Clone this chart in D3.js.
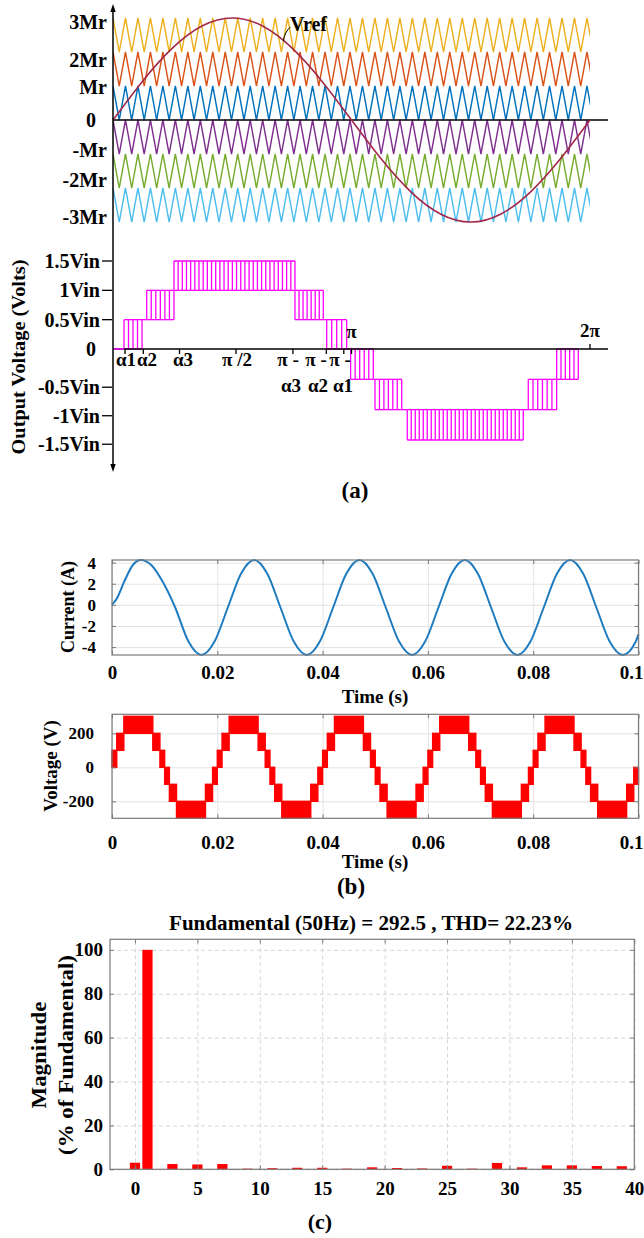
<!DOCTYPE html>
<html>
<head>
<meta charset="utf-8">
<script src="https://cdn.jsdelivr.net/npm/d3@7"></script>
<style>
body { margin: 0; background: #fff; }
svg text { font-family: "Liberation Serif", "Times New Roman", serif; font-weight: bold; fill: #000; }
</style>
</head>
<body>
<svg id="fig" width="644" height="1238"></svg>
<script>
// ---------------- data ----------------
// (a) carriers, lower edge of each band (Mr units)
const carrierLow = [2, 1, 0, -1, -2, -3];
const carrierColor = ["#EDB120", "#D95319", "#0072BD", "#7E2F8E", "#77AC30", "#4DBEEE"];
const carrierPeriod = 0.1643; // rad
// reference, read every pi/8
const vrefVal = [0, 1.15, 2.12, 2.77, 3, 2.77, 2.12, 1.15, 0, -1.15, -2.12, -2.77, -3, -2.77, -2.12, -1.15, 0];
const topTickPos = [2.88, 1.76, 0.97, 0, -0.88, -1.76, -2.85];
const topTickText = ["3Mr", "2Mr", "Mr", "0", "-Mr", "-2Mr", "-3Mr"];

// (a) output voltage: switching regions (rad) and levels (Vin)
const pwmStart = [0.145, 0.444, 0.803, 2.397, 2.815, 3.130, 3.451, 3.876, 5.470, 5.844];
const pwmEnd   = [0.382, 0.803, 2.397, 2.770, 3.078, 3.429, 3.803, 5.404, 5.844, 6.129];
const pwmLow   = [0, 0.5, 1, 0.5, 0, 0, -0.5, -1, -0.5, 0];
const pwmHigh  = [0.5, 1, 1.5, 1, 0.5, -0.5, -1, -1.5, -1, -0.5];
const pwmEdges = [5, 7, 30, 8, 5, 6, 7, 30, 7, 6];
const outTickPos = [1.5, 1, 0.5, 0, -0.63, -1.1, -1.57];
const outTickText = ["1.5Vin", "1Vin", "0.5Vin", "0", "-0.5Vin", "-1Vin", "-1.5Vin"];
const angTickPos = [0.158, 0.399, 0.876, 1.62, 2.37, 2.81, 3.04, Math.PI];
const angLabText = ["α1", "α2", "α3", "π /2"];
const angLabPos = [0.171, 0.448, 0.922, 1.633];
const angLab2Text = ["π -", "π -", "π -"];
const angLab2Pos = [2.305, 2.674, 2.99];
const angLab3Text = ["α3", "α2", "α1"];
const angLab3Pos = [2.345, 2.70, 3.03];

// (b) load current
const curT = [0, 0.0008, 0.0025, 0.004, 0.0055, 0.0075, 0.0095, 0.012, 0.0145, 0.017, 0.0195,
  0.022, 0.0245, 0.027, 0.0295, 0.032, 0.0345, 0.037, 0.0395, 0.042, 0.0445, 0.047, 0.0495,
  0.052, 0.0545, 0.057, 0.0595, 0.062, 0.0645, 0.067, 0.0695, 0.072, 0.0745, 0.077, 0.0795,
  0.082, 0.0845, 0.087, 0.0895, 0.092, 0.0945, 0.097, 0.0995, 0.1];
const curA = [0, 0.5, 2.4, 3.8, 4.25, 3.75, 2.3, -0.25, -3.45, -4.75, -3.45,
  -0.25, 2.95, 4.25, 2.95, -0.25, -3.45, -4.75, -3.45, -0.25, 2.95, 4.25, 2.95,
  -0.25, -3.45, -4.75, -3.45, -0.25, 2.95, 4.25, 2.95, -0.25, -3.45, -4.75, -3.45,
  -0.25, 2.95, 4.25, 2.95, -0.25, -3.45, -4.75, -3.45, -2.8];
const curTicksY = [-4, -2, 0, 2, 4];
const timeTicks = [0, 0.02, 0.04, 0.06, 0.08, 0.1];

// (b) output voltage, one half cycle (s) and the level band switched in it
const vLevels = [0, 100, 200, 300];
const halfBandStart = [0, 0.0009, 0.00225, 0.00775, 0.0091];
const halfBandEnd   = [0.0009, 0.00225, 0.00775, 0.0091, 0.01];
const halfBandIdx   = [0, 1, 2, 1, 0];
const halfCycles = 10;
const voltTicksY = [-200, 0, 200];

// (c) harmonic spectrum (% of fundamental)
const harmOrder = d3.range(0, 40);
const harmMag = [3.0, 100, 0.15, 2.4, 0.15, 2.2, 0.15, 2.4, 0.15, 0.3,
  0.15, 0.5, 0.15, 0.7, 0.15, 0.7, 0.15, 0.3, 0.15, 0.9,
  0.15, 0.6, 0.15, 0.4, 0.15, 1.6, 0.15, 0.3, 0.15, 2.9,
  0.15, 0.9, 0.15, 1.8, 0.15, 1.8, 0.15, 1.5, 0.15, 1.4];
const harmTicksX = [0, 5, 10, 15, 20, 25, 30, 35, 40];
const harmTicksY = [0, 20, 40, 60, 80, 100];

// ---------------- figure ----------------
const svg = d3.select("#fig");
svg.append("rect").attr("width", 644).attr("height", 1238).attr("fill", "#fff");
const defs = svg.append("defs");

// ===== (a) =====
const xA = d3.scaleLinear().domain([0, 2 * Math.PI]).range([113, 590]);
const yTop = d3.scaleLinear().domain([-3, 3]).range([222, 18]);
const yOut = d3.scaleLinear().domain([-1.5, 0, 1.5]).range([440, 349, 261]);
const gA = svg.append("g");

defs.append("clipPath").attr("id", "carrClip")
  .append("rect").attr("x", xA(0)).attr("y", 0)
  .attr("width", xA(2 * Math.PI) - xA(0)).attr("height", 240);

const lineTop = d3.line().x(d => xA(d[0])).y(d => yTop(d[1]));
carrierLow.forEach((lo, i) => {
  const n = Math.ceil(2 * Math.PI / (carrierPeriod / 2)) + 1;
  const pts = d3.range(n + 1).map(k => [k * carrierPeriod / 2, k % 2 ? lo : lo + 1]);
  gA.append("path")
    .attr("d", lineTop(pts))
    .attr("fill", "none")
    .attr("stroke", carrierColor[i])
    .attr("stroke-width", 1.4)
    .attr("clip-path", "url(#carrClip)");
});

// zero line of carrier plot
gA.append("line")
  .attr("x1", xA(0)).attr("x2", 608)
  .attr("y1", yTop(0)).attr("y2", yTop(0))
  .attr("stroke", "#000").attr("stroke-width", 1.5);

// reference
gA.append("path")
  .attr("d", d3.line().curve(d3.curveNatural)
    .x((d, i) => xA(i * Math.PI / 8)).y(d => yTop(d))(vrefVal))
  .attr("fill", "none").attr("stroke", "#A2284A").attr("stroke-width", 1.6);

// Vref label with leader
gA.append("path")
  .attr("d", `M${xA(2.245)},${yTop(2.32)} Q${xA(2.245) + 1},${yTop(2.32) - 9} ${xA(2.245) + 7},${yTop(2.32) - 14}`)
  .attr("fill", "none").attr("stroke", "#000").attr("stroke-width", 1);
gA.append("text").attr("x", 290).attr("y", 31).style("font-size", "20px").text("Vref");

// top tick labels
gA.selectAll(".tl").data(topTickPos).enter().append("text")
  .attr("x", (d, i) => topTickText[i] === "0" ? 96 : 107)
  .attr("y", d => yTop(d))
  .attr("dy", "0.35em")
  .attr("text-anchor", "end")
  .style("font-size", "20px")
  .text((d, i) => topTickText[i]);

// output voltage waveform
const pwm = gA.append("g").attr("stroke", "#FF00FF").attr("stroke-width", 1.3).attr("fill", "none");
pwmStart.forEach((s, i) => {
  const e = pwmEnd[i], lo = pwmLow[i], hi = pwmHigh[i], n = pwmEdges[i];
  [lo, hi].forEach(v => {
    pwm.append("line").attr("x1", xA(s)).attr("x2", xA(e)).attr("y1", yOut(v)).attr("y2", yOut(v));
  });
  d3.range(n).forEach(k => {
    const p = s + (e - s) * k / (n - 1);
    pwm.append("line").attr("x1", xA(p)).attr("x2", xA(p)).attr("y1", yOut(lo)).attr("y2", yOut(hi));
  });
  if (i < pwmStart.length - 1 && pwmStart[i + 1] > e) {
    const shared = [lo, hi].find(v => v === pwmLow[i + 1] || v === pwmHigh[i + 1]);
    if (shared !== undefined) {
      pwm.append("line").attr("x1", xA(e)).attr("x2", xA(pwmStart[i + 1]))
        .attr("y1", yOut(shared)).attr("y2", yOut(shared));
    }
  }
});

// axes of (a)
gA.append("line")
  .attr("x1", xA(0)).attr("x2", 608)
  .attr("y1", yOut(0)).attr("y2", yOut(0))
  .attr("stroke", "#000").attr("stroke-width", 1.5);
gA.append("line")
  .attr("x1", xA(0)).attr("x2", xA(pwmStart[0]))
  .attr("y1", yOut(0)).attr("y2", yOut(0))
  .attr("stroke", "#FF00FF").attr("stroke-width", 1.5);
gA.append("line")
  .attr("x1", 113).attr("x2", 113).attr("y1", 10).attr("y2", 466)
  .attr("stroke", "#000").attr("stroke-width", 1.5);
gA.append("path").attr("d", "M113,4 L110.3,12 L115.7,12 Z").attr("fill", "#000");
gA.append("path").attr("d", "M113,472 L110.3,464 L115.7,464 Z").attr("fill", "#000");

// angle ticks
gA.selectAll(".at").data(angTickPos).enter().append("line")
  .attr("x1", d => xA(d)).attr("x2", d => xA(d))
  .attr("y1", yOut(0)).attr("y2", yOut(0) + 5)
  .attr("stroke", "#000").attr("stroke-width", 1.3);
gA.append("line")
  .attr("x1", xA(2 * Math.PI)).attr("x2", xA(2 * Math.PI))
  .attr("y1", yOut(0)).attr("y2", yOut(0) - 5)
  .attr("stroke", "#000").attr("stroke-width", 1.3);

// output voltage tick labels and dashes
gA.selectAll(".ot").data(outTickPos).enter().append("text")
  .attr("x", (d, i) => outTickText[i] === "0" ? 96 : 100)
  .attr("y", d => yOut(d))
  .attr("dy", "0.35em")
  .attr("text-anchor", "end")
  .style("font-size", "20px")
  .text((d, i) => outTickText[i]);
gA.selectAll(".od").data(outTickPos.filter(d => d !== 0)).enter().append("line")
  .attr("x1", 102).attr("x2", 112)
  .attr("y1", d => yOut(d)).attr("y2", d => yOut(d))
  .attr("stroke", "#000").attr("stroke-width", 1.3);

// angle labels
gA.selectAll(".al").data(angLabPos).enter().append("text")
  .attr("x", d => xA(d)).attr("y", 366)
  .attr("text-anchor", "middle").style("font-size", "19px")
  .text((d, i) => angLabText[i]);
gA.selectAll(".al2").data(angLab2Pos).enter().append("text")
  .attr("x", d => xA(d)).attr("y", 366)
  .attr("text-anchor", "middle").style("font-size", "19px")
  .text((d, i) => angLab2Text[i]);
gA.selectAll(".al3").data(angLab3Pos).enter().append("text")
  .attr("x", d => xA(d)).attr("y", 392)
  .attr("text-anchor", "middle").style("font-size", "19px")
  .text((d, i) => angLab3Text[i]);
gA.append("text").attr("x", xA(Math.PI)).attr("y", 338)
  .attr("text-anchor", "middle").style("font-size", "19px").text("π");
gA.append("text").attr("x", xA(2 * Math.PI)).attr("y", 337)
  .attr("text-anchor", "middle").style("font-size", "19px").text("2π");

gA.append("text")
  .attr("transform", "translate(18,357) rotate(-90)")
  .attr("text-anchor", "middle").attr("dy", "0.35em")
  .attr("textLength", 195).attr("lengthAdjust", "spacingAndGlyphs")
  .style("font-size", "19px")
  .text("Output Voltage (Volts)");

svg.append("text").attr("x", 355).attr("y", 498)
  .attr("text-anchor", "middle").style("font-size", "23px").text("(a)");

// ===== helper: MATLAB-like axes box =====
function boxAxes(g, x, y, xt, yt, o) {
  const [x0, x1] = x.range();
  const [yb, yt0] = y.range();
  const gx = g.append("g").attr("transform", `translate(0,${yb})`)
    .call(d3.axisBottom(x).tickValues(xt).tickSize(-(yb - yt0)).tickFormat(""));
  const gy = g.append("g").attr("transform", `translate(${x0},0)`)
    .call(d3.axisLeft(y).tickValues(yt).tickSize(-(x1 - x0)).tickFormat(""));
  [gx, gy].forEach(a => {
    a.select(".domain").remove();
    a.selectAll("line").attr("stroke", o.gridColor).attr("stroke-dasharray", o.dash || null);
  });
}
function boxFrame(g, x, y, xt, yt, o) {
  const [x0, x1] = x.range();
  const [yb, yt0] = y.range();
  const bx = g.append("g").attr("transform", `translate(0,${yb})`)
    .call(d3.axisBottom(x).tickValues(xt).tickSize(-4).tickPadding(o.xPad)
      .tickFormat(o.xFmt));
  const by = g.append("g").attr("transform", `translate(${x0},0)`)
    .call(d3.axisLeft(y).tickValues(yt).tickSize(-4).tickPadding(o.yPad)
      .tickFormat(o.yFmt));
  const bt = g.append("g").attr("transform", `translate(0,${yt0})`)
    .call(d3.axisTop(x).tickValues(xt).tickSize(-4).tickFormat(""));
  const br = g.append("g").attr("transform", `translate(${x1},0)`)
    .call(d3.axisRight(y).tickValues(yt).tickSize(-4).tickFormat(""));
  [bx, by, bt, br].forEach(a => {
    a.select(".domain").remove();
    a.selectAll("line").attr("stroke", "#7a7a7a");
  });
  bx.selectAll("text").style("font-size", o.xSize + "px");
  by.selectAll("text").style("font-size", o.ySize + "px");
  // keep the last label inside the page
  if (o.lastEnd) {
    bx.selectAll("text").filter(d => d === xt[xt.length - 1])
      .attr("text-anchor", "end").attr("x", 644 - 1 - x1);
  }
  g.append("rect").attr("x", x0).attr("y", yt0)
    .attr("width", x1 - x0).attr("height", yb - yt0)
    .attr("fill", "none").attr("stroke", "#7a7a7a").attr("stroke-width", 1.2);
}
const timeFmt = d => d === 0 ? "0" : d3.format(".2~f")(d);

// ===== (b) current =====
const xI = d3.scaleLinear().domain([0, 0.1]).range([112, 638.5]);
const yI = d3.scaleLinear().domain([-4.75, 4.25]).range([655, 560]);
const gI = svg.append("g");
boxAxes(gI, xI, yI, timeTicks, curTicksY, { gridColor: "#e3e3e3" });
gI.append("path")
  .datum(curT.map((t, i) => [t, curA[i]]))
  .attr("d", d3.line().curve(d3.curveMonotoneX).x(d => xI(d[0])).y(d => yI(d[1])))
  .attr("fill", "none").attr("stroke", "#1F7BBF").attr("stroke-width", 2);
boxFrame(gI, xI, yI, timeTicks, curTicksY, {
  xPad: 11, yPad: 16, xSize: 19, ySize: 17, lastEnd: true,
  xFmt: timeFmt, yFmt: d => d
});
gI.append("text").attr("x", 375).attr("y", 703)
  .attr("text-anchor", "middle").style("font-size", "19px").text("Time (s)");
gI.append("text").attr("transform", "translate(68,607) rotate(-90)")
  .attr("text-anchor", "middle").attr("dy", "0.35em")
  .style("font-size", "18px").text("Current (A)");

// ===== (b) voltage =====
const xV = d3.scaleLinear().domain([0, 0.1]).range([112, 638.5]);
const yV = d3.scaleLinear().domain([-300, 312]).range([818.3, 714.3]);
const gV = svg.append("g");
boxAxes(gV, xV, yV, timeTicks, voltTicksY, { gridColor: "#e3e3e3" });
const blocks = [];
d3.range(halfCycles).forEach(h => {
  const sign = h % 2 ? -1 : 1;
  halfBandStart.forEach((s, j) => {
    blocks.push({
      t0: h * 0.01 + s, t1: h * 0.01 + halfBandEnd[j],
      v0: sign * vLevels[halfBandIdx[j]], v1: sign * vLevels[halfBandIdx[j] + 1]
    });
  });
});
gV.selectAll(".blk").data(blocks).enter().append("rect")
  .attr("x", d => xV(d.t0))
  .attr("width", d => xV(d.t1) - xV(d.t0))
  .attr("y", d => yV(Math.max(d.v0, d.v1)))
  .attr("height", d => Math.abs(yV(d.v0) - yV(d.v1)))
  .attr("fill", "#FF0000").attr("stroke", "#FF0000").attr("stroke-width", 1.4);
boxFrame(gV, xV, yV, timeTicks, voltTicksY, {
  xPad: 17, yPad: 18, xSize: 19, ySize: 17, lastEnd: true,
  xFmt: timeFmt, yFmt: d => d
});
gV.append("text").attr("x", 375).attr("y", 868)
  .attr("text-anchor", "middle").style("font-size", "19px").text("Time (s)");
gV.append("text").attr("transform", "translate(50,766) rotate(-90)")
  .attr("text-anchor", "middle").attr("dy", "0.35em")
  .style("font-size", "19px").text("Voltage (V)");

svg.append("text").attr("x", 351).attr("y", 894)
  .attr("text-anchor", "middle").style("font-size", "23px").text("(b)");

// ===== (c) spectrum =====
const xH = d3.scaleLinear().domain([-2, 40]).range([110, 634.3]);
const yH = d3.scaleLinear().domain([0, 104.8]).range([1169.3, 939.3]);
const gH = svg.append("g");
boxAxes(gH, xH, yH, harmTicksX, harmTicksY, { gridColor: "#d6d6d6", dash: "4,3" });
gH.selectAll(".bar").data(harmOrder).enter().append("rect")
  .attr("x", d => xH(d - 0.41))
  .attr("width", xH(0.41) - xH(-0.41))
  .attr("y", (d, i) => yH(harmMag[i]))
  .attr("height", (d, i) => yH(0) - yH(harmMag[i]))
  .attr("fill", "#FF0000");
boxFrame(gH, xH, yH, harmTicksX, harmTicksY, {
  xPad: 12, yPad: 7, xSize: 19, ySize: 19,
  xFmt: d => d, yFmt: d => d
});
gH.append("text").attr("x", 371).attr("y", 930)
  .attr("text-anchor", "middle")
  .attr("textLength", 404).attr("lengthAdjust", "spacingAndGlyphs")
  .style("font-size", "21px")
  .text("Fundamental (50Hz) = 292.5 , THD= 22.23%");
gH.append("text").attr("transform", "translate(39,1055) rotate(-90)")
  .attr("text-anchor", "middle").attr("dy", "0.35em")
  .attr("textLength", 107).attr("lengthAdjust", "spacingAndGlyphs")
  .style("font-size", "21px").text("Magnitude");
gH.append("text").attr("transform", "translate(66,1055) rotate(-90)")
  .attr("text-anchor", "middle").attr("dy", "0.35em")
  .attr("textLength", 200).attr("lengthAdjust", "spacingAndGlyphs")
  .style("font-size", "21px").text("(% of Fundamental)");

svg.append("text").attr("x", 320).attr("y", 1229)
  .attr("text-anchor", "middle").style("font-size", "22px").text("(c)");
</script>
</body>
</html>
